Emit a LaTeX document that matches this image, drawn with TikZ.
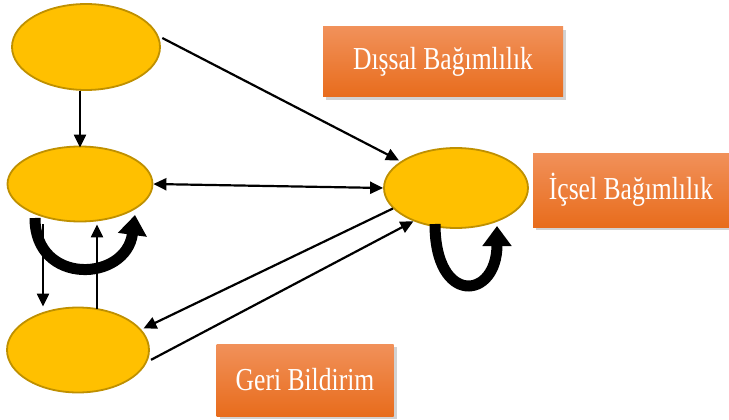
\documentclass[tikz,border=0pt]{standalone}
\usepackage{fontspec}
\usetikzlibrary{shapes.geometric,arrows.meta,shadows,calc}
\newfontfamily\boxfont[FakeStretch=0.8]{Liberation Serif}
\definecolor{ellfill}{HTML}{FFC000}
\definecolor{elldraw}{HTML}{BF9000}
\definecolor{boxtop}{HTML}{F1915A}
\definecolor{boxbot}{HTML}{E86C1C}
\tikzset{
  ell/.style={ellipse, draw=elldraw, fill=ellfill, line width=1.8pt, inner sep=0pt},
  lbl/.style={rectangle, top color=boxtop, bottom color=boxbot, draw=none,
    text=white, font=\boxfont\fontsize{32}{36}\selectfont, inner sep=0pt,
    drop shadow={opacity=0.35, shadow xshift=3pt, shadow yshift=-3pt}},
  arr/.style={line width=2.2pt, -{Triangle[length=13pt,width=12pt]}},
  darr/.style={line width=2.2pt, {Triangle[length=13pt,width=12pt]}-{Triangle[length=13pt,width=12pt]}},
  loopar/.style={line width=11pt, -{Triangle[length=20pt,width=28pt]}}
}
\begin{document}
\begin{tikzpicture}[x=1pt,y=-1pt]
\useasboundingbox[fill=white] (0,0) rectangle (729,420);
% ellipses
\node[ell, minimum width=148pt, minimum height=86pt] (A) at (86,47) {};
\node[ell, minimum width=145pt, minimum height=75pt] (B) at (80,184) {};
\node[ell, minimum width=142pt, minimum height=85pt] (C) at (78,350) {};
\node[ell, minimum width=144pt, minimum height=80pt] (D) at (456,188) {};
% label boxes
\node[lbl, minimum width=240pt, minimum height=70pt] (L1) at (443,62) {Dışsal Bağımlılık};
\node[lbl, minimum width=196pt, minimum height=74pt] (L2) at (631,190) {İçsel Bağımlılık};
\node[lbl, minimum width=177pt, minimum height=72pt] (L3) at (305,380) {Geri Bildirim};
% connectors
\draw[arr] (B.north |- A.south) -- ([yshift=-2pt]B.north);
\draw[arr] ([xshift=3pt]A.7) -- ([xshift=-3pt]D.153);
\draw[darr] (B.east) -- (D.west);
\draw[arr] (D.198) -- ([xshift=3pt]C.19);
\draw[arr] ([xshift=3pt]C.352) -- (D.218);
\draw[arr] ([xshift=-37pt,yshift=-2pt]B.south) -- ([xshift=-37pt]B.south |- C.north);
\draw[arr] ([xshift=17pt,yshift=-2pt]B.south |- C.north) -- ([xshift=17pt,yshift=-2pt]B.south);
% self loops
\coordinate (bl1) at (35,218);
\coordinate (bl2) at (135,215);
\draw[loopar] (bl1) .. controls (35,286) and (126,282) .. (bl2);
\coordinate (dl1) at (435,224);
\coordinate (dl2) at (497,226);
\draw[loopar] (dl1) .. controls (435,306) and (497,300) .. (dl2);
\end{tikzpicture}
\end{document}
